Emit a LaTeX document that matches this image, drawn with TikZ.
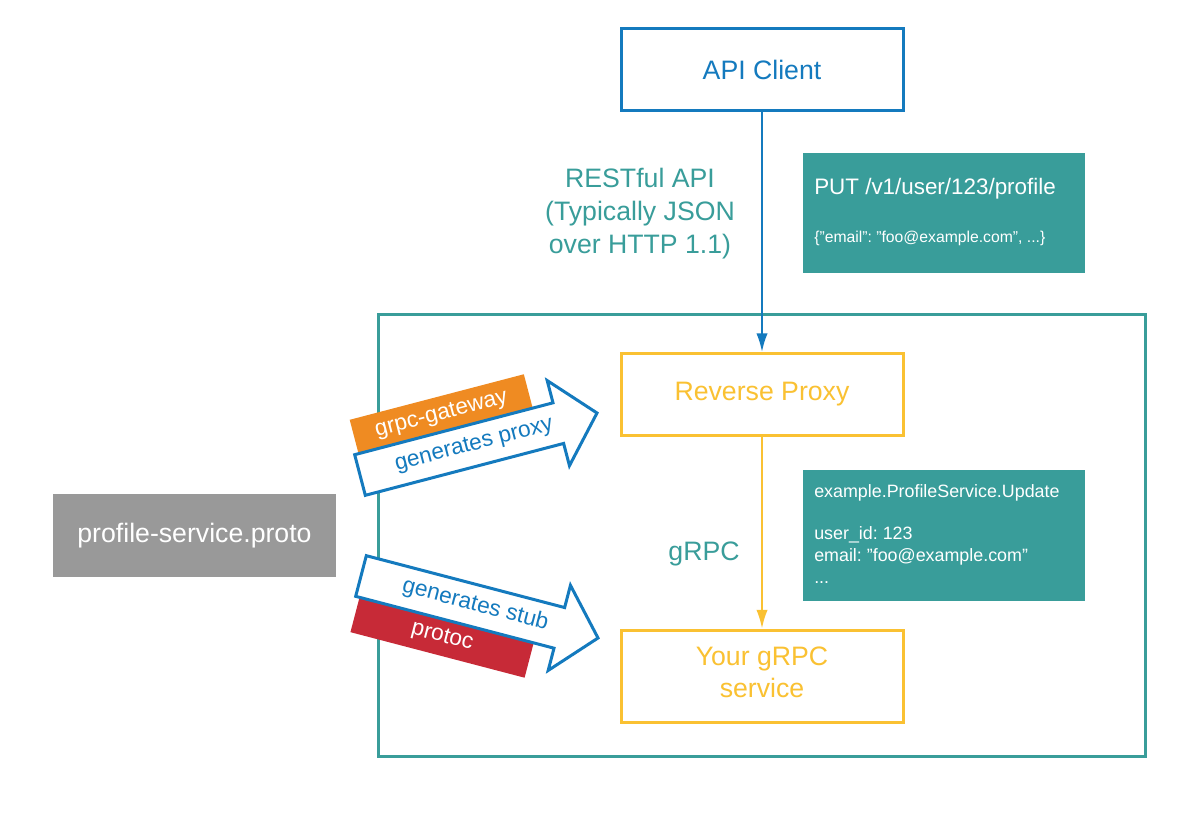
\documentclass[tikz,border=0pt]{standalone}
\usepackage{fontspec}
\setmainfont{Liberation Sans}
\usetikzlibrary{arrows.meta}
\definecolor{cblue}{RGB}{20,122,190}
\definecolor{cteal}{RGB}{57,157,154}
\definecolor{cyellow}{RGB}{250,193,50}
\definecolor{corange}{RGB}{239,139,34}
\definecolor{cred}{RGB}{199,42,55}
\definecolor{cgray}{RGB}{153,153,153}
\newcommand{\dq}{\symbol{34}}
\frenchspacing
\begin{document}
\begin{tikzpicture}[x=0.75pt,y=-0.75pt,
  box/.style={draw, line width=2.25pt, minimum width=211.5pt, minimum height=61.5pt, inner sep=0pt, font=\fontsize{20}{24}\selectfont, align=center},
  infobox/.style={fill=cteal, minimum width=211.5pt, inner sep=0pt},
  conn/.style={line width=1.5pt, -{Latex[length=14pt,width=8.5pt]}},
  blockarrow/.style={draw=cblue, fill=white, line width=2.25pt},
  tag/.style={text=white, minimum width=135pt, minimum height=27.75pt, inner sep=0pt, font=\fontsize{17}{20}\selectfont},
  arrowtext/.style={text=cblue, font=\fontsize{17}{20}\selectfont, inner sep=0pt},
  infotext/.style={text=white, anchor=base west, inner sep=0pt},
  label/.style={text=cteal, font=\fontsize{20}{24.75}\selectfont, align=center}
]
\fill[white] (0,0) rectangle (1200,813);
\useasboundingbox (0,0) rectangle (1200,813);

% container
\draw[cteal, line width=2.25pt] (378.5,314.5) rectangle (1145.5,756.5);

% main boxes
\node[box, draw=cblue, text=cblue] (api) at (762,70) {API Client};
\node[box, draw=cyellow, text=cyellow] (proxy) at (762,394.5) {Reverse Proxy};
\node[box, draw=cyellow, minimum height=69pt] (service) at (762,676) {};
\node[text=cyellow, font=\fontsize{20}{24}\selectfont, align=center, inner sep=0pt] (servicetext) at (762,672) {Your gRPC\\service};
\node[fill=cgray, text=white, minimum width=212.25pt, minimum height=62.25pt, inner sep=0pt, font=\fontsize{20}{24}\selectfont] (proto) at (194.5,535.5) {profile-service.proto};

% connectors
\draw[conn, cblue] (api) -- (proxy);
\draw[conn, cyellow] (proxy) -- (service);

% labels
\node[label] (rest) at (640,214) {RESTful API\\(Typically JSON\\over HTTP 1.1)};
\node[label] (grpc) at (704,554) {gRPC};

% info boxes
\node[infobox, minimum height=90pt] (req) at (944,213) {};
\node[infotext, font=\fontsize{16.8}{20}\selectfont] (reqline) at (814,195) {PUT /v1/user/123/profile};
\node[infotext, font=\fontsize{11.8}{14}\selectfont] (reqbody) at (814,243) {\{\dq email\dq: \dq foo@example.com\dq, ...\}};

\node[infobox, minimum height=98.25pt] (rpc) at (944,535.5) {};
\node[infotext, font=\fontsize{13.4}{16}\selectfont] (rpc1) at (814,497.5) {example.ProfileService.Update};
\node[infotext, font=\fontsize{13.4}{16}\selectfont] (rpc2) at (814,539.5) {user\_id: 123};
\node[infotext, font=\fontsize{13.4}{16}\selectfont] (rpc3) at (814,561.5) {email: \dq foo@example.com\dq};
\node[infotext, font=\fontsize{13.4}{16}\selectfont] (rpc4) at (814,583.5) {...};

% upper block arrow
\begin{scope}[shift={(360,475)}, rotate=14.66]
  \node[tag, fill=corange, rotate=14.66] (gw) at (94,-37.5) {grpc-gateway};
  \draw[blockarrow] (0,-21) -- (205,-21) -- (205,-44) -- (245,0) -- (205,44) -- (205,21) -- (0,21) -- cycle;
  \node[arrowtext, rotate=14.66] (gp) at (118,0) {generates proxy};
\end{scope}

% lower block arrow
\begin{scope}[shift={(361,576)}, rotate=-14.66]
  \node[tag, fill=cred, rotate=-14.66] (pc) at (94,38.5) {protoc};
  \draw[blockarrow] (0,-21) -- (205,-21) -- (205,-44) -- (245,0) -- (205,44) -- (205,21) -- (0,21) -- cycle;
  \node[arrowtext, rotate=-14.66] (gs) at (118,-1) {generates stub};
\end{scope}
\end{tikzpicture}
\end{document}
